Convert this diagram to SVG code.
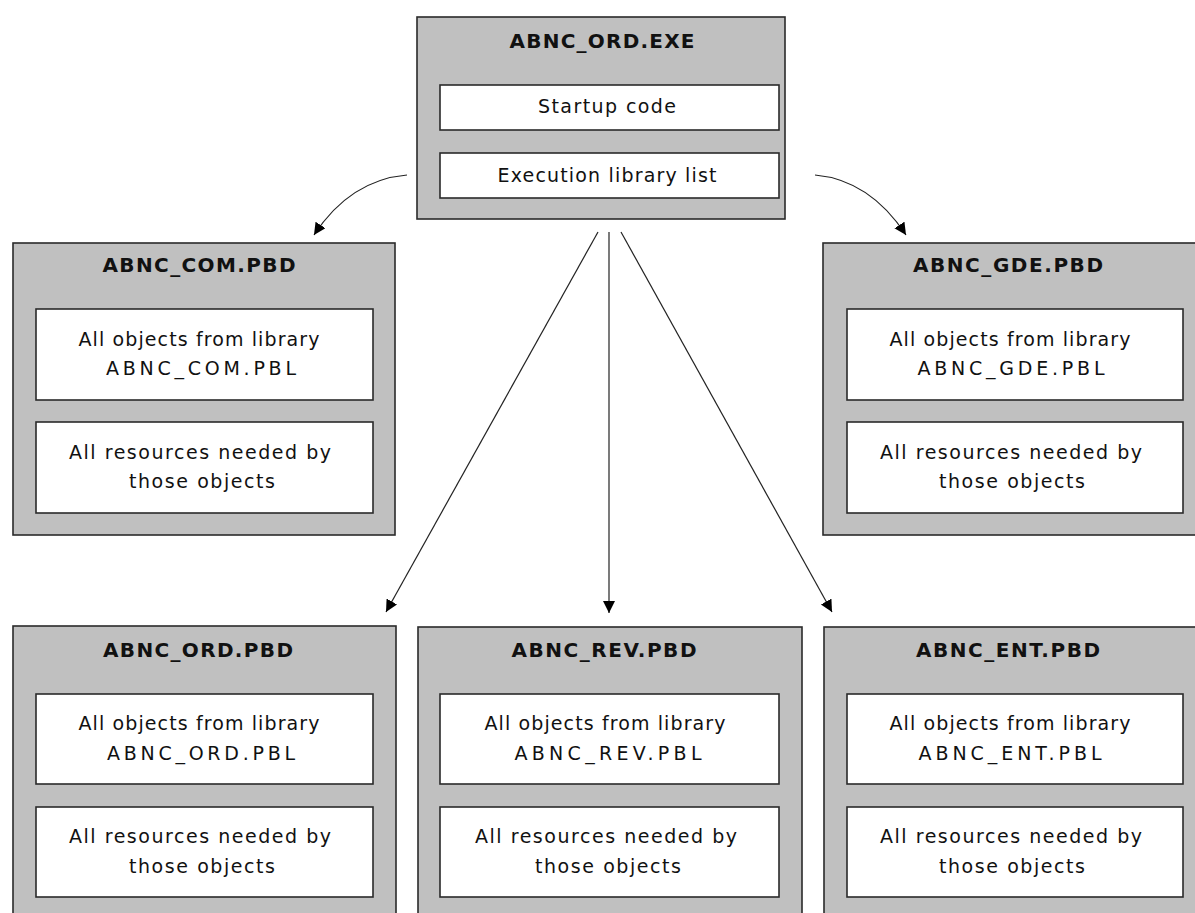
<svg xmlns="http://www.w3.org/2000/svg" width="1195" height="913" viewBox="0 0 1195 913">
<style>
.outer{fill:#c0c0c0;stroke:#2a2a2a;stroke-width:1.6}
.inner{fill:#ffffff;stroke:#2a2a2a;stroke-width:1.6}
.title{font-family:"DejaVu Sans",Verdana,sans-serif;font-weight:bold;font-size:20px;fill:#111;text-anchor:middle}
.txt{font-family:"DejaVu Sans",Verdana,sans-serif;font-size:19px;fill:#111;text-anchor:middle}
.conn{fill:none;stroke:#222;stroke-width:1.2}
</style>
<defs>
<marker id="arr" markerUnits="userSpaceOnUse" markerWidth="14" markerHeight="14" refX="12" refY="6" orient="auto">
<path d="M0,0 L12,6 L0,12 Z" fill="#000"/>
</marker>
</defs>
<rect width="1195" height="913" fill="#fff"/>

<g id="connectors">
<path class="conn" d="M407,175 Q350,180 314,235" marker-end="url(#arr)"/>
<path class="conn" d="M815,175 Q870,180 906,235" marker-end="url(#arr)"/>
<line class="conn" x1="598" y1="232" x2="386" y2="612" marker-end="url(#arr)"/>
<line class="conn" x1="609" y1="232" x2="609" y2="613" marker-end="url(#arr)"/>
<line class="conn" x1="621" y1="232" x2="832" y2="612" marker-end="url(#arr)"/>
</g>

<g id="exe">
<rect class="outer" x="417" y="17" width="368" height="202"/>
<text class="title" x="602" y="48" textLength="185">ABNC_ORD.EXE</text>
<rect class="inner" x="440" y="85" width="339" height="45"/>
<text class="txt" x="607" y="113" textLength="138">Startup code</text>
<rect class="inner" x="440" y="153" width="339" height="45"/>
<text class="txt" x="607" y="182" textLength="219">Execution library list</text>
</g>

<g id="com">
<rect class="outer" x="13" y="243" width="382" height="292"/>
<text class="title" x="199" y="272" textLength="193">ABNC_COM.PBD</text>
<rect class="inner" x="36" y="309" width="337" height="91"/>
<text class="txt" x="199" y="346" textLength="241">All objects from library</text>
<text class="txt" x="201" y="375" textLength="190">ABNC_COM.PBL</text>
<rect class="inner" x="36" y="422" width="337" height="91"/>
<text class="txt" x="200" y="459" textLength="262">All resources needed by</text>
<text class="txt" x="202" y="488" textLength="146">those objects</text>
</g>

<g id="gde">
<rect class="outer" x="823" y="243" width="390" height="292"/>
<text class="title" x="1008" y="272" textLength="190">ABNC_GDE.PBD</text>
<rect class="inner" x="847" y="309" width="336" height="91"/>
<text class="txt" x="1010" y="346" textLength="241">All objects from library</text>
<text class="txt" x="1011" y="375" textLength="187">ABNC_GDE.PBL</text>
<rect class="inner" x="847" y="422" width="336" height="91"/>
<text class="txt" x="1011" y="459" textLength="262">All resources needed by</text>
<text class="txt" x="1012" y="488" textLength="146">those objects</text>
</g>

<g id="ord">
<rect class="outer" x="13" y="626" width="383" height="300"/>
<text class="title" x="198" y="657" textLength="190">ABNC_ORD.PBD</text>
<rect class="inner" x="36" y="694" width="337" height="90"/>
<text class="txt" x="199" y="730" textLength="241">All objects from library</text>
<text class="txt" x="201" y="760" textLength="188">ABNC_ORD.PBL</text>
<rect class="inner" x="36" y="807" width="337" height="90"/>
<text class="txt" x="200" y="843" textLength="262">All resources needed by</text>
<text class="txt" x="202" y="873" textLength="146">those objects</text>
</g>

<g id="rev">
<rect class="outer" x="418" y="627" width="384" height="300"/>
<text class="title" x="604" y="657" textLength="185">ABNC_REV.PBD</text>
<rect class="inner" x="440" y="694" width="339" height="90"/>
<text class="txt" x="605" y="730" textLength="241">All objects from library</text>
<text class="txt" x="608" y="760" textLength="187">ABNC_REV.PBL</text>
<rect class="inner" x="440" y="807" width="339" height="90"/>
<text class="txt" x="606" y="843" textLength="262">All resources needed by</text>
<text class="txt" x="608" y="873" textLength="146">those objects</text>
</g>

<g id="ent">
<rect class="outer" x="824" y="627" width="390" height="300"/>
<text class="title" x="1008" y="657" textLength="184">ABNC_ENT.PBD</text>
<rect class="inner" x="847" y="694" width="336" height="90"/>
<text class="txt" x="1010" y="730" textLength="241">All objects from library</text>
<text class="txt" x="1010" y="760" textLength="183">ABNC_ENT.PBL</text>
<rect class="inner" x="847" y="807" width="336" height="90"/>
<text class="txt" x="1011" y="843" textLength="262">All resources needed by</text>
<text class="txt" x="1012" y="873" textLength="146">those objects</text>
</g>
</svg>
